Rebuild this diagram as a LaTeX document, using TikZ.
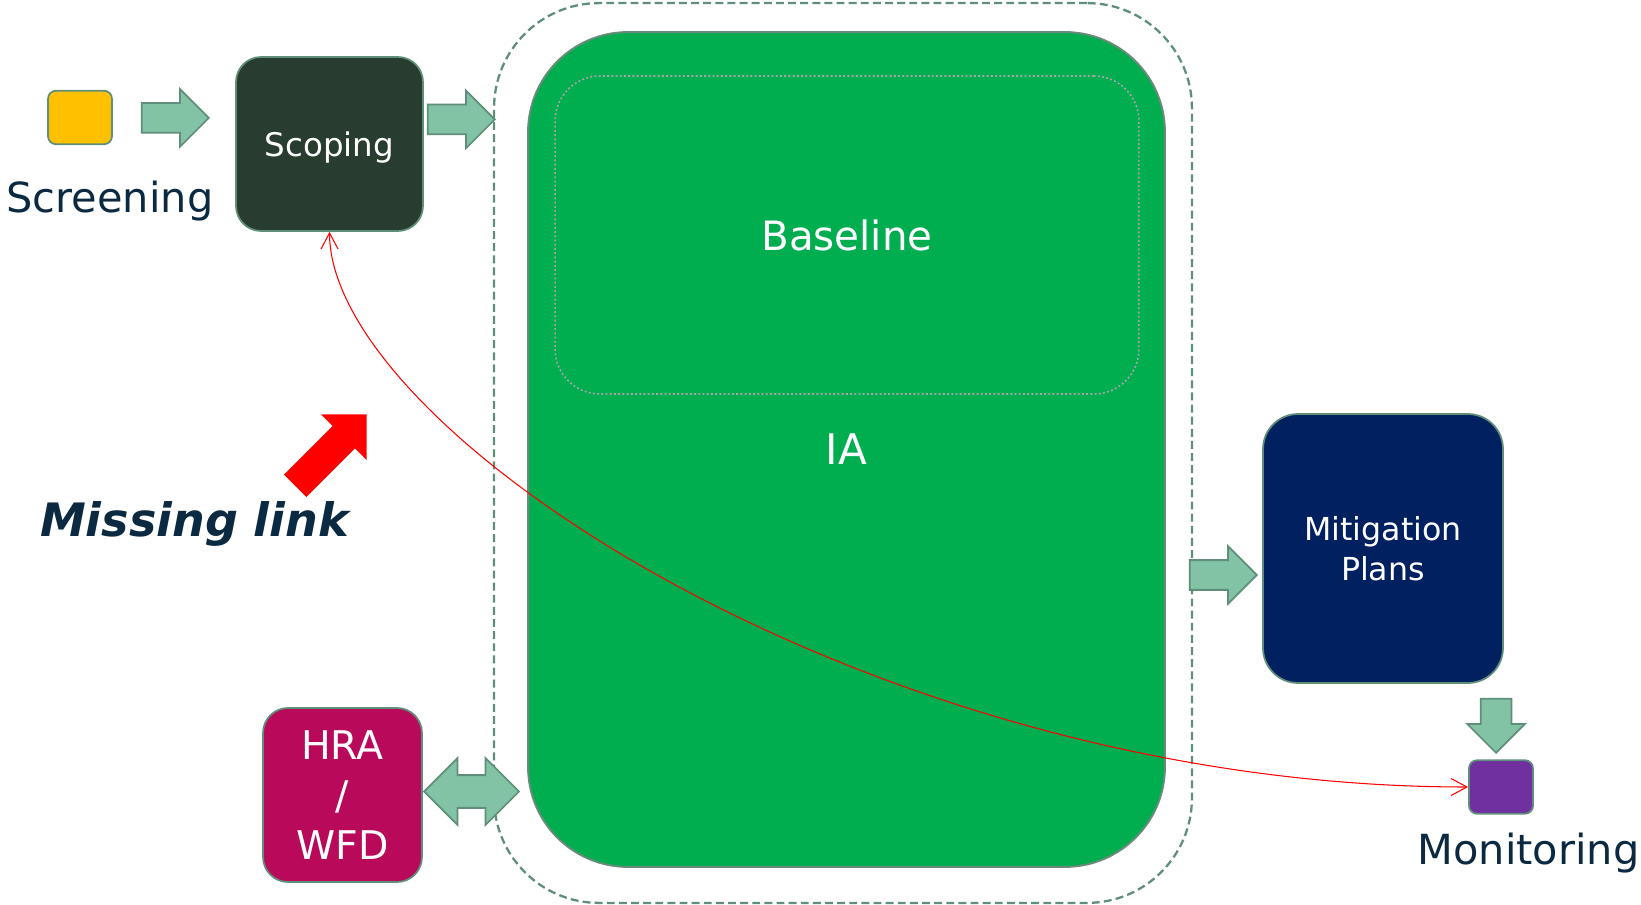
\documentclass[tikz,border=0pt]{standalone}
\usepackage{fontspec}
\setmainfont{DejaVu Sans}
\usetikzlibrary{shapes.arrows,arrows.meta}
\definecolor{navy}{HTML}{0B2940}
\definecolor{rimgreen}{HTML}{5F8F7A}
\definecolor{arrowfill}{HTML}{82C3A5}
\definecolor{scopfill}{HTML}{283C2F}
\definecolor{iagreen}{HTML}{00AE50}
\definecolor{iarim}{HTML}{6A8A7A}
\definecolor{mitfill}{HTML}{002060}
\definecolor{hrafill}{HTML}{B8095A}
\definecolor{monfill}{HTML}{7030A0}
\definecolor{scrfill}{HTML}{FFC000}
\begin{document}
\begin{tikzpicture}
    [x=0.02cm,y=-0.02cm
    ,>={Straight Barb[length=0.32cm,width=0.34cm]}
    ,stagebox/.style={draw=rimgreen,line width=1pt,rounded corners=0.5cm,inner sep=0pt,text=white,align=center}
    ,smallbox/.style={draw=rimgreen,line width=1pt,rounded corners=0.16cm,inner sep=0pt,minimum width=1.28cm,minimum height=1.07cm}
    ,blockarr/.style={single arrow,draw=rimgreen,fill=arrowfill,line width=1pt,inner xsep=0pt,inner ysep=0.28cm,single arrow head extend=0.28cm,minimum height=1.34cm,anchor=tip}
    ,lbl/.style={text=navy,font=\fontsize{23.6}{27}\selectfont,inner sep=0pt,anchor=base}
    ]

    \useasboundingbox (0,0) rectangle (1641,905);

    \node[draw=rimgreen,line width=1.3pt,dash pattern=on 4.5pt off 2.4pt,rounded corners=2.1cm,minimum width=13.96cm,minimum height=18cm] (ext) at (843,453) {};
    \node[draw=iarim,fill=iagreen,line width=1.1pt,rounded corners=2cm,minimum width=12.74cm,minimum height=16.7cm,text=white,font=\fontsize{24}{28}\selectfont] (ia) at (846.5,449.5) {IA};
    \node[draw=gray!70,line width=0.9pt,dash pattern=on 1.1pt off 1.3pt,rounded corners=0.9cm,minimum width=11.68cm,minimum height=6.36cm,text=white,font=\fontsize{23}{27}\selectfont] (base) at (847,235) {Baseline};

    \node[smallbox,fill=scrfill] (scr) at (80,117.5) {};
    \node[lbl] (scrlbl) at (110,213) {Screening};
    \node[stagebox,fill=scopfill,minimum width=3.74cm,minimum height=3.48cm,text depth=0pt,font=\fontsize{18.5}{22}\selectfont] (scop) at (329.5,144) {Scoping};
    \node[stagebox,fill=hrafill,minimum width=3.18cm,minimum height=3.48cm,font=\fontsize{22.5}{28.5}\selectfont] (hra) at (342.5,795) {HRA\\/\\WFD};
    \node[stagebox,fill=mitfill,rounded corners=0.7cm,minimum width=4.8cm,minimum height=5.38cm,font=\fontsize{18}{22.7}\selectfont] (mit) at (1383,548.5) {Mitigation\\Plans};
    \node[smallbox,fill=monfill] (mon) at (1501,787) {};
    \node[lbl] (monlbl) at (1528.5,864) {Monitoring};

    \node[blockarr] (a1) at (210,118) {};
    \node[blockarr] (a2) at (496,119.5) {};
    \node[blockarr] (a3) at (1258,575) {};
    \node[blockarr,rotate=-90,inner ysep=0.29cm,single arrow head extend=0.27cm,minimum height=1.08cm] (a4) at (1496,754) {};
    \node[double arrow,draw=rimgreen,fill=arrowfill,line width=1pt,inner xsep=0pt,inner ysep=0.31cm,double arrow head extend=0.34cm,minimum height=1.9cm] (a5) at (471.5,791.5) {};

    \node[single arrow,fill=red,rotate=45,anchor=tip,inner xsep=0pt,inner ysep=0.31cm,single arrow head extend=0.33cm,minimum height=2.02cm] (miss) at (367,414) {};
    \node[lbl,font=\fontsize{26.2}{30}\selectfont\bfseries\itshape] (misslbl) at (194.5,537) {Missing link};

    \draw [<->,red,line width=0.6pt] (mon.west) .. controls (869,787) and (330,431) .. (scop.south);

  \end{tikzpicture}
\end{document}
